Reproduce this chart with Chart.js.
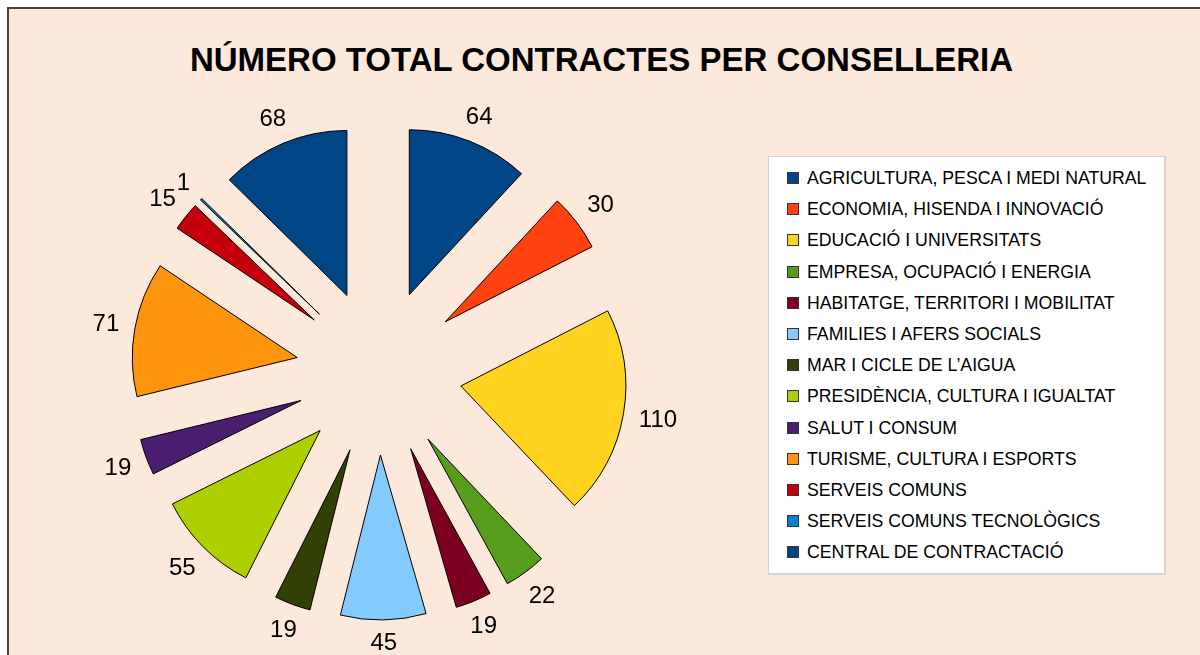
<!DOCTYPE html>
<html>
<head>
<meta charset="utf-8">
<title>Número total contractes per conselleria</title>
<script src="https://cdn.jsdelivr.net/npm/chart.js@4.4.0/dist/chart.umd.min.js"></script>
<style>
    html, body { margin: 0; padding: 0; background: #ffffff; }
    body {
        width: 1200px; height: 655px; position: relative; overflow: hidden;
        font-family: "Liberation Sans", Arial, sans-serif;
    }
    #frame {
        position: absolute; left: 7px; top: 7px; right: 0; bottom: 0;
        background: #fde9dc;
        border-left: 2px solid #444444;
        border-top: 2px solid #444444;
    }
    #title {
        position: absolute; left: 0; top: 40px; width: 1203px;
        text-align: center; font-weight: bold; font-size: 33px; line-height: 40px;
        color: #000000;
    }
    #chart { position: absolute; left: 0; top: 0; }
    #legend {
        position: absolute; left: 768px; top: 156px; width: 395px; height: 416px;
        background: #ffffff; border: 2px solid #d4d4d4; border-top-width: 1px; border-left-width: 1px;
    }
    .legend-item {
        position: absolute; left: 18px; height: 20px; line-height: 20px;
        font-size: 17.7px; color: #000000; white-space: nowrap;
    }
    .legend-box {
        position: absolute; left: 0; top: 4px; width: 10px; height: 10px;
        border: 1px solid #333333;
    }
    .legend-text { position: absolute; left: 20px; top: 0; }
</style>
</head>
<body>
<div id="frame"></div>
<div id="title">NÚMERO TOTAL CONTRACTES PER CONSELLERIA</div>
<canvas id="chart" width="1200" height="655"></canvas>
<div id="legend"></div>
<script>
// Conselleries (legend order = slice order, clockwise from 12 o'clock)
const conselleries = [
    'AGRICULTURA, PESCA I MEDI NATURAL',
    'ECONOMIA, HISENDA I INNOVACIÓ',
    'EDUCACIÓ I UNIVERSITATS',
    'EMPRESA, OCUPACIÓ I ENERGIA',
    'HABITATGE, TERRITORI I MOBILITAT',
    'FAMILIES I AFERS SOCIALS',
    'MAR I CICLE DE L\u2019AIGUA',
    'PRESIDÈNCIA, CULTURA I IGUALTAT',
    'SALUT I CONSUM',
    'TURISME, CULTURA I ESPORTS',
    'SERVEIS COMUNS',
    'SERVEIS COMUNS TECNOLÒGICS',
    'CENTRAL DE CONTRACTACIÓ'
];

const contractes = [64, 30, 110, 22, 19, 45, 19, 55, 19, 71, 15, 1, 68];

const colors = [
    '#004586', '#ff420e', '#ffd320', '#579d1c', '#7e0021', '#83caff', '#314004',
    '#aecf00', '#4b1f6f', '#ff950e', '#c5000b', '#0084d1', '#004586'
];

const EXPLODE = 83;   // distance each slice is pulled out of the centre

// Pull each slice outward along its middle angle (keeps the radius the same for all slices)
const explodePlugin = {
    id: 'explode',
    afterDatasetUpdate(chart, args) {
        args.meta.data.forEach(arc => {
            const mid = (arc.startAngle + arc.endAngle) / 2;
            arc.x = arc.x + Math.cos(mid) * EXPLODE;
            arc.y = arc.y + Math.sin(mid) * EXPLODE;
        });
    }
};

// Value labels outside each slice
const valueLabels = {
    id: 'valueLabels',
    afterDatasetsDraw(chart) {
        const ctx = chart.ctx;
        const meta = chart.getDatasetMeta(0);
        const values = chart.data.datasets[0].data;
        ctx.save();
        ctx.font = '24px "Liberation Sans", Arial, sans-serif';
        ctx.fillStyle = '#000000';
        ctx.textAlign = 'center';
        ctx.textBaseline = 'middle';
        meta.data.forEach((arc, i) => {
            const mid = (arc.startAngle + arc.endAngle) / 2;
            const text = String(values[i]);
            const w = ctx.measureText(text).width;
            const c = Math.cos(mid), s = Math.sin(mid);
            const dist = arc.outerRadius + 15 + Math.abs(c) * w / 2 + Math.abs(s) * 7;
            ctx.fillText(text, arc.x + c * dist, arc.y + s * dist + 1);
        });
        ctx.restore();
    }
};

const chart = new Chart(document.getElementById('chart'), {
    type: 'pie',
    data: {
        labels: conselleries,
        datasets: [{
            data: contractes,
            backgroundColor: colors,
            borderColor: '#000000',
            borderWidth: 1,
            borderJoinStyle: 'miter'
        }]
    },
    options: {
        responsive: false,
        animation: false,
        radius: 165,
        layout: { padding: { left: 129, right: 571, top: 122, bottom: 33 } },
        plugins: {
            legend: { display: false },
            tooltip: { enabled: false }
        }
    },
    plugins: [explodePlugin, valueLabels]
});

// Legend
const legend = document.getElementById('legend');
conselleries.forEach((name, i) => {
    const item = document.createElement('div');
    item.className = 'legend-item';
    item.style.top = (11 + i * 31.2) + 'px';
    item.innerHTML = `<span class="legend-box" style="background:${colors[i]}"></span><span class="legend-text">${name}</span>`;
    legend.appendChild(item);
});
</script>
</body>
</html>
